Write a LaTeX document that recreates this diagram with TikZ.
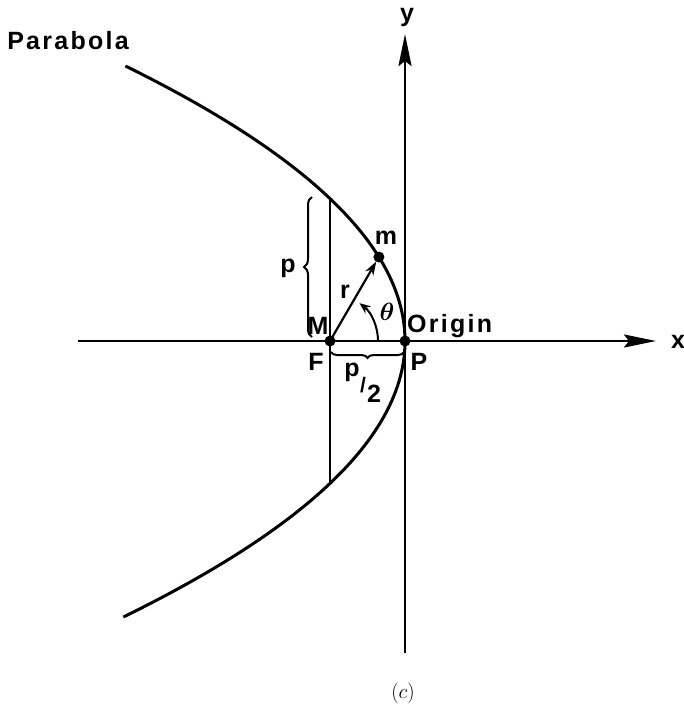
\documentclass[tikz,border=0pt]{standalone}
\usepackage{fontspec}
\setmainfont{Liberation Sans}
\usetikzlibrary{arrows.meta,decorations.pathreplacing}
\begin{document}
\begin{tikzpicture}[x=1pt,y=-1pt,
  lbl/.style={font=\fontsize{25}{26}\selectfont\bfseries\addfontfeatures{LetterSpace=9}, inner sep=0pt},
  curve/.style={line width=3pt},
  axis/.style={line width=2.6pt, -{Stealth[length=32pt,width=13pt,inset=5pt]}},
  dot/.style={circle,fill=black,inner sep=0pt,minimum size=11pt},
  lat/.style={line width=2pt},
  brc/.style={line width=2pt, decorate}
]
\useasboundingbox (0,0) rectangle (684,710);
% key points
\coordinate (F) at (330,341);
\coordinate (P) at (405,341);
\coordinate (m) at (378.9,257);
\coordinate (xs) at (78,341);
\coordinate (xe) at (656,341);
\coordinate (ys) at (405,653);
\coordinate (ye) at (405,34);
\coordinate (L1) at (330,198.6);
\coordinate (L2) at (330,483.4);
\coordinate (A0) at (378,341);
\coordinate (B1) at (312,337);
\coordinate (B2) at (312,197);
\coordinate (C1) at (331,352);
\coordinate (C2) at (404,352);
% axes
\draw[axis] (xs) -- (xe);
\draw[axis] (ys) -- (ye);
% parabola
\draw[curve] plot[domain=-275:276, samples=120, variable=\t] ({405-(0.0608*\t)^2},{341+\t});
% latus rectum
\draw[lat] (L1) -- (L2);
% radius vector
\draw[line width=2.2pt, -{Stealth[length=14pt,width=9pt]}, shorten >=5pt] (F) -- (m);
% angle arc
\draw[line width=2pt, -{Stealth[length=11pt,width=9pt]}] (A0) arc[start angle=0, end angle=-52, radius=48];
% braces
\draw[brc, decoration={brace,amplitude=8pt}] (B1) -- (B2);
\draw[brc, decoration={brace,amplitude=6pt,mirror}] (C1) -- (C2);
% dots
\node[dot] (Fd) at (F) {};
\node[dot] (Pd) at (P) {};
\node[dot] (md) at (m) {};
% labels
\node[lbl] (ylab) at (407,17) {y};
\node[lbl] (xlab) at (678,342) {x};
\node[lbl] (para) at (68,41) {Parabola};
\node[lbl] (mlab) at (386,238) {m};
\node[lbl] (rlab) at (345,292) {r};
\node[font=\fontsize{26}{26}\selectfont\boldmath, inner sep=0pt] (th) at (387,312) {$\theta$};
\node[lbl] (Mlab) at (318,326) {M};
\node[lbl, anchor=west] (orig) at (407,326) {Origin};
\node[lbl] (Flab) at (316,362) {F};
\node[lbl] (Plab) at (419,362) {P};
\node[lbl] (plab) at (288,268) {p};
\node[lbl] (p2a) at (352,372) {p};
\node[font=\fontsize{21}{21}\selectfont\bfseries, inner sep=0pt] (p2s) at (363,385) {/};
\node[lbl] (p2b) at (374,394) {2};
\node[font=\fontsize{22}{22}\selectfont, inner sep=0pt] (cap) at (403,693) {$(c)$};
\end{tikzpicture}
\end{document}
